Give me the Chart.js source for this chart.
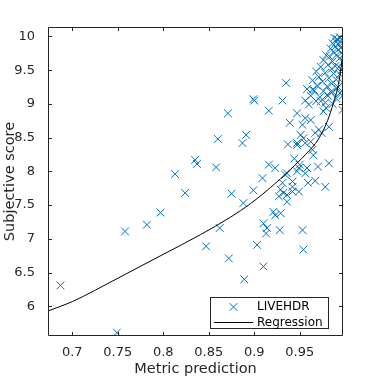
<!DOCTYPE html>
<html>
<head>
<meta charset="utf-8">
<script src="https://cdn.jsdelivr.net/npm/chart.js@4"></script>
<style>
html,body{margin:0;padding:0;background:#fff;}
#c{display:block;}
</style>
</head>
<body>
<canvas id="c" width="378" height="378"></canvas>
<script>
// ---- data ----
const livehdrX = [
0.687,0.749,0.758,0.782,0.797,0.813,0.824,0.835,0.837,0.847,0.858,0.860,0.862,0.871,0.872,0.875,
0.887,0.888,0.889,0.891,0.899,0.900,0.899,0.903,0.909,0.910,0.910,0.914,0.913,0.916,0.916,0.921,
0.923,0.923,0.929,0.927,0.928,0.929,0.931,0.931,0.932,0.934,0.935,0.936,0.936,0.936,0.937,0.939,
0.942,0.942,0.942,0.944,0.947,0.947,0.947,0.947,0.949,0.950,0.949,0.951,0.953,0.953,0.954,0.954,
0.956,0.956,0.956,0.958,0.959,0.960,0.962,0.962,0.964,0.964,0.965,0.967,0.967,0.970,0.971,0.973,
0.974,0.976,0.978,0.979,0.980,0.982,0.982,0.986,0.991,0.997,
0.988,0.991,0.994,0.996,0.990,0.986,0.993,0.997,0.989,0.984,0.995,0.992,0.987,0.996,
0.979,0.983,0.990,0.994,0.976,0.986,0.997,0.981,0.989,0.993,0.973,0.985,0.996,
0.968,0.978,0.987,0.994,0.971,0.982,0.990,0.964,0.975,0.985,0.997,0.969,0.980,0.992,
0.958,0.966,0.976,0.984,0.994,0.962,0.972,0.981,0.990,0.956,0.968,0.978,0.986,0.997
];
const livehdrY = [
6.31,5.61,7.11,7.21,7.39,7.96,7.68,8.17,8.11,6.89,8.06,8.48,7.16,8.86,6.71,7.67,
8.42,7.53,6.40,8.54,9.07,9.05,7.72,6.91,7.90,6.59,7.23,7.16,7.08,8.90,8.10,7.40,
7.35,8.05,7.38,7.63,7.13,7.73,9.05,7.83,7.68,7.95,9.31,7.55,7.97,7.65,8.40,8.72,
7.77,7.85,7.70,8.19,8.39,8.00,8.42,8.86,8.05,8.10,7.70,8.54,7.13,8.69,6.84,8.49,
8.42,7.97,8.79,8.05,7.83,8.99,8.44,8.76,8.32,9.21,8.24,8.57,7.86,8.07,8.62,9.04,
8.57,8.89,7.77,8.94,9.13,8.66,8.12,9.18,9.23,8.91,
9.98,9.96,9.99,9.95,9.92,9.90,9.88,9.90,9.85,9.82,9.83,9.80,9.77,9.76,
9.72,9.70,9.72,9.68,9.65,9.63,9.62,9.58,9.56,9.55,9.55,9.52,9.50,
9.48,9.46,9.45,9.44,9.40,9.38,9.36,9.35,9.33,9.30,9.32,9.27,9.26,9.25,
9.22,9.20,9.19,9.18,9.16,9.12,9.10,9.12,9.08,9.05,9.04,9.02,9.00,9.12
];
const regressionX = [0.6732,0.7000,0.7492,0.7999,0.8406,0.8737,0.8957,0.9178,0.9398,0.9563,0.9706,0.9805,0.9871,0.9904,0.9930,0.9948,0.9965,0.9976];
const regressionY = [5.93,6.07,6.41,6.77,7.06,7.32,7.52,7.76,8.03,8.25,8.48,8.75,9.02,9.17,9.33,9.48,9.66,9.84];
const xTicks = [0.7,0.75,0.8,0.85,0.9,0.95];
const yTicks = [6,6.5,7,7.5,8,8.5,9,9.5,10];
const seriesNames = ['LIVEHDR','Regression'];
const xTitle = 'Metric prediction';
const yTitle = 'Subjective score';

const AX = '#262626';
const FONT = 'DejaVu Sans';
Chart.defaults.font.family = FONT;

const frame = {
  id: 'frame',
  afterDraw(chart) {
    const ctx = chart.ctx, a = chart.chartArea;
    const xs = chart.scales.x, ys = chart.scales.y;
    ctx.save();
    ctx.strokeStyle = AX; ctx.lineWidth = 1;
    const L = Math.round(a.left)+0.5, R = Math.round(a.right)-0.5, T = Math.round(a.top)+0.5, B = Math.round(a.bottom)-0.5;
    ctx.beginPath();
    ctx.rect(L, T, R-L, B-T);
    const tl = 3.5;
    xs.ticks.forEach(t => {
      const p = Math.round(xs.getPixelForValue(t.value))+0.5;
      ctx.moveTo(p, B); ctx.lineTo(p, B-tl);
      ctx.moveTo(p, T); ctx.lineTo(p, T+tl);
    });
    ys.ticks.forEach(t => {
      const p = Math.round(ys.getPixelForValue(t.value))+0.5;
      ctx.moveTo(L, p); ctx.lineTo(L+tl, p);
      ctx.moveTo(R, p); ctx.lineTo(R-tl, p);
    });
    ctx.stroke();

    // axis titles
    ctx.fillStyle = AX;
    ctx.font = '14.5px ' + FONT;
    ctx.textAlign = 'center'; ctx.textBaseline = 'middle';
    ctx.fillText(xTitle, (a.left+a.right)/2, 369);
    ctx.save();
    ctx.translate(10.5, (a.top+a.bottom)/2);
    ctx.rotate(-Math.PI/2);
    ctx.fillText(yTitle, 0, 0);
    ctx.restore();

    // legend
    const lx = 210.5, ly = 297.5, lw = 118, lh = 31;
    ctx.fillStyle = '#fff';
    ctx.fillRect(lx, ly, lw, lh);
    ctx.strokeStyle = AX;
    ctx.strokeRect(lx, ly, lw, lh);
    const ds0 = chart.data.datasets[0];
    ctx.strokeStyle = ds0.borderColor; ctx.lineWidth = 1;
    Chart.helpers.drawPoint(ctx, {pointStyle: 'crossRot', radius: 5.5, borderWidth: 1}, 233.5, 307);
    ctx.strokeStyle = '#000';
    ctx.beginPath(); ctx.moveTo(214, 322.5); ctx.lineTo(253, 322.5); ctx.stroke();
    ctx.fillStyle = '#000';
    ctx.font = '12px ' + FONT;
    ctx.textAlign = 'left';
    ctx.fillText(seriesNames[0], 257, 307);
    ctx.fillText(seriesNames[1], 257, 322.5);
    ctx.restore();
  }
};

new Chart(document.getElementById('c'), {
  type: 'scatter',
  data: {
    datasets: [
      {
        label: seriesNames[0],
        data: livehdrX.map((x,i)=>({x:x, y:livehdrY[i]})),
        pointStyle: 'crossRot',
        pointRadius: 5.5,
        pointBorderWidth: 1,
        borderColor: '#0072BD',
        backgroundColor: '#0072BD',
        showLine: false,
        order: 1
      },
      {
        label: seriesNames[1],
        type: 'line',
        data: regressionX.map((x,i)=>({x:x, y:regressionY[i]})),
        borderColor: '#000',
        borderWidth: 1,
        pointRadius: 0,
        fill: false,
        showLine: true,
        cubicInterpolationMode: 'monotone',
        order: 0
      }
    ]
  },
  options: {
    responsive: false,
    animation: false,
    devicePixelRatio: 1,
    layout: { padding: { top: 27, right: 35, left: 0, bottom: 0 } },
    plugins: { legend: { display: false }, tooltip: { enabled: false } },
    scales: {
      x: {
        type: 'linear', min: 0.6733, max: 0.9975,
        afterBuildTicks: s => { s.ticks = xTicks.map(v => ({value: v})); },
        afterFit: s => { s.height = 42; },
        grid: { display: false }, border: { display: false },
        ticks: { callback: v => String(v), color: AX, font: { size: 13 }, padding: 1, maxRotation: 0, autoSkip: false }
      },
      y: {
        type: 'linear', min: 5.56, max: 10.14,
        afterBuildTicks: s => { s.ticks = yTicks.map(v => ({value: v})); },
        afterFit: s => { s.width = 48; },
        grid: { display: false }, border: { display: false },
        ticks: { callback: v => String(v), color: AX, font: { size: 13 }, padding: 5, autoSkip: false }
      }
    }
  },
  plugins: [frame]
});
</script>
</body>
</html>
